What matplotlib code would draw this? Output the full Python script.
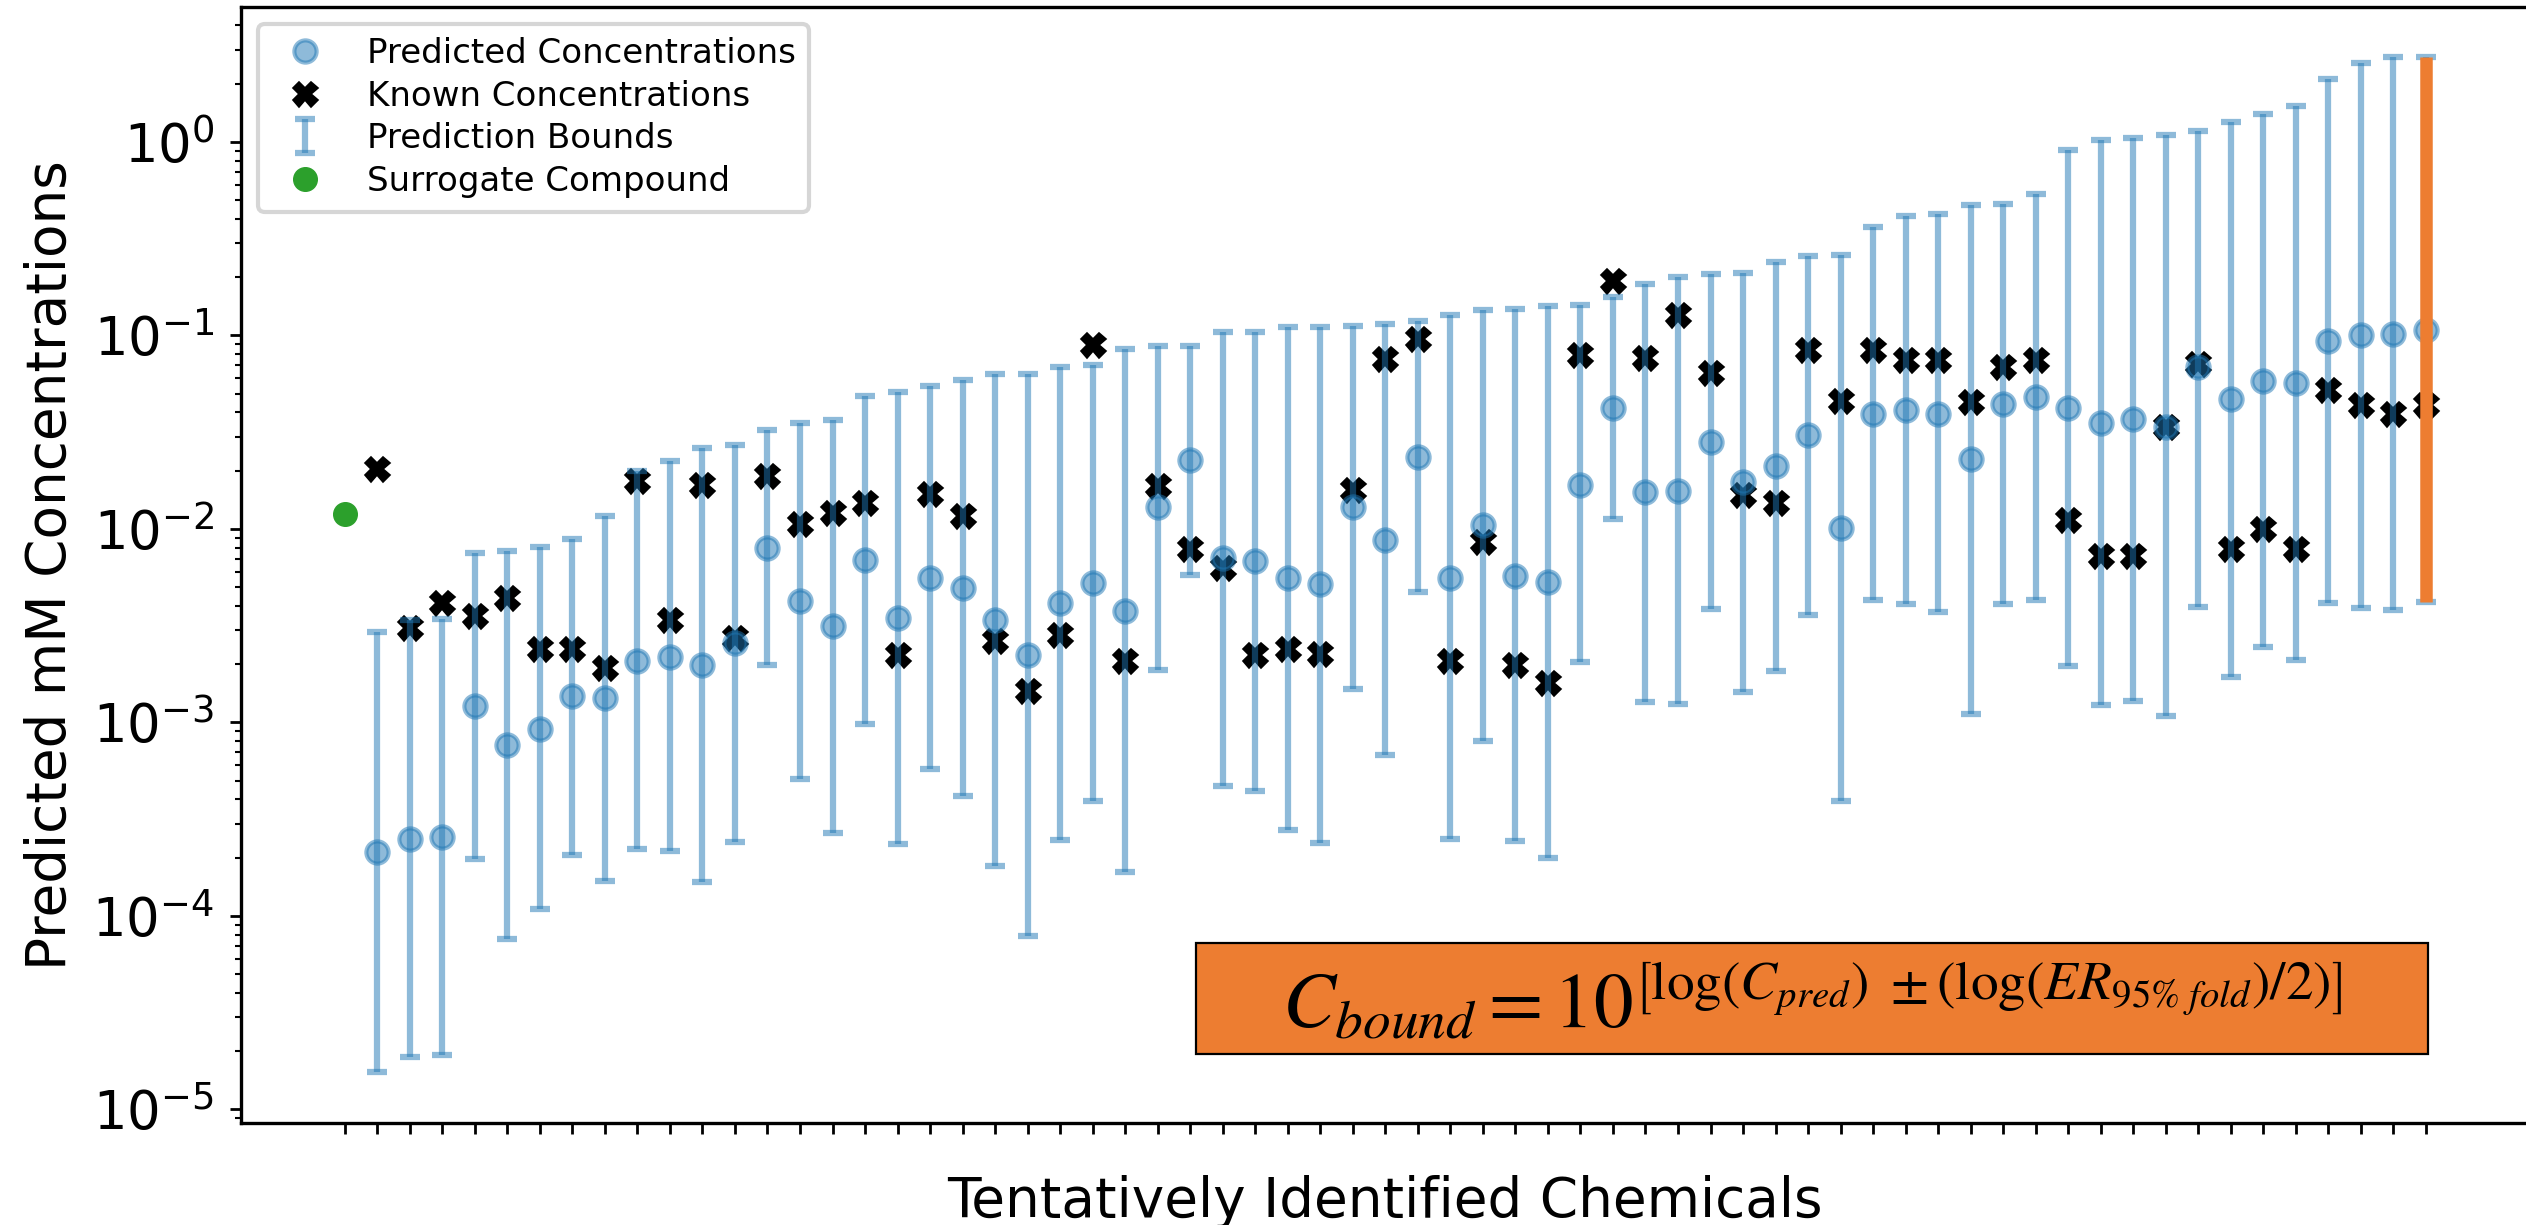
import matplotlib
matplotlib.use("Agg")
import matplotlib.pyplot as plt
from matplotlib.patches import Rectangle
import numpy as np

# Surrogate compound (position 0)
surrogate_conc = [0.0119]

# Tentatively identified chemicals (positions 1..64), concentrations in mM
predicted_conc = [
    2.13e-4, 2.51e-4, 2.55e-4, 1.22e-3, 7.62e-4, 9.29e-4, 1.36e-3, 1.33e-3,
    2.07e-3, 2.18e-3, 1.99e-3, 2.56e-3, 7.96e-3, 4.24e-3, 3.16e-3, 6.89e-3,
    3.47e-3, 5.56e-3, 4.93e-3, 3.39e-3, 2.22e-3, 4.13e-3, 5.25e-3, 3.78e-3,
    1.29e-2, 2.26e-2, 7.06e-3, 6.79e-3, 5.56e-3, 5.18e-3, 1.29e-2, 8.75e-3,
    2.36e-2, 5.60e-3, 1.05e-2, 5.71e-3, 5.30e-3, 1.69e-2, 4.21e-2, 1.55e-2,
    1.57e-2, 2.82e-2, 1.75e-2, 2.10e-2, 3.04e-2, 1.01e-2, 3.91e-2, 4.10e-2,
    3.94e-2, 2.29e-2, 4.43e-2, 4.81e-2, 4.21e-2, 3.53e-2, 3.68e-2, 3.36e-2,
    6.89e-2, 4.66e-2, 5.78e-2, 5.69e-2, 9.31e-2, 0.100, 0.102, 0.107,
]

lower_bound = [
    1.56e-5, 1.87e-5, 1.90e-5, 1.96e-4, 7.60e-5, 1.09e-4, 2.06e-4, 1.52e-4,
    2.21e-4, 2.16e-4, 1.50e-4, 2.42e-4, 1.97e-3, 5.07e-4, 2.68e-4, 9.84e-4,
    2.34e-4, 5.71e-4, 4.16e-4, 1.81e-4, 7.85e-5, 2.47e-4, 3.90e-4, 1.69e-4,
    1.86e-3, 5.78e-3, 4.69e-4, 4.43e-4, 2.79e-4, 2.39e-4, 1.48e-3, 6.76e-4,
    4.73e-3, 2.51e-4, 8.05e-4, 2.44e-4, 1.99e-4, 2.04e-3, 1.12e-2, 1.28e-3,
    1.24e-3, 3.85e-3, 1.44e-3, 1.84e-3, 3.58e-3, 3.94e-4, 4.27e-3, 4.09e-3,
    3.70e-3, 1.11e-3, 4.09e-3, 4.27e-3, 1.95e-3, 1.23e-3, 1.29e-3, 1.08e-3,
    3.95e-3, 1.71e-3, 2.44e-3, 2.09e-3, 4.12e-3, 3.92e-3, 3.79e-3, 4.20e-3,
]

upper_bound = [
    2.94e-3, 3.38e-3, 3.44e-3, 7.53e-3, 7.71e-3, 8.02e-3, 8.89e-3, 1.17e-2,
    1.99e-2, 2.23e-2, 2.63e-2, 2.70e-2, 3.24e-2, 3.54e-2, 3.66e-2, 4.83e-2,
    5.11e-2, 5.45e-2, 5.89e-2, 6.28e-2, 6.32e-2, 6.85e-2, 7.03e-2, 8.51e-2,
    8.79e-2, 8.79e-2, 0.104, 0.104, 0.111, 0.111, 0.112, 0.114,
    0.118, 0.127, 0.135, 0.136, 0.142, 0.143, 0.158, 0.185,
    0.201, 0.208, 0.209, 0.239, 0.256, 0.261, 0.361, 0.412,
    0.423, 0.471, 0.480, 0.535, 0.912, 1.02, 1.05, 1.09,
    1.14, 1.26, 1.40, 1.53, 2.12, 2.55, 2.73, 2.73,
]

known_conc = [
    0.0204, 3.08e-3, 4.13e-3, 3.56e-3, 4.37e-3, 2.40e-3, 2.38e-3, 1.91e-3,
    0.0177, 3.36e-3, 0.0168, 2.73e-3, 0.0188, 0.0106, 0.0121, 0.0136,
    2.22e-3, 0.0151, 0.0116, 2.64e-3, 1.46e-3, 2.82e-3, 0.0890, 2.08e-3,
    0.0167, 7.88e-3, 6.26e-3, 2.22e-3, 2.40e-3, 2.25e-3, 0.0158, 0.0754,
    0.0959, 2.08e-3, 8.55e-3, 1.98e-3, 1.59e-3, 0.0794, 0.190, 0.0762,
    0.128, 0.0640, 0.0149, 0.0136, 0.0836, 0.0458, 0.0836, 0.0743,
    0.0743, 0.0450, 0.0684, 0.0743, 0.0111, 7.22e-3, 7.22e-3, 0.0336,
    0.0707, 7.91e-3, 0.0100, 7.91e-3, 0.0519, 0.0435, 0.0394, 0.0435,
]

highlight_index = 63  # chemical whose bounds are emphasised

formula = (r"$C_{bound} = 10^{\left[\log(C_{pred})\ \pm"
           r"(\log(ER_{95\%\ fold})/2)\right]}$")

W, H = 2526, 1225
fig = plt.figure(figsize=(W / 100, H / 100), dpi=100)
left, right, top, bottom = 240.7, 2530.0, 6.7, 1122.7
ax = fig.add_axes([left / W, 1 - bottom / H, (right - left) / W, (bottom - top) / H])

n = len(predicted_conc)
x_chem = np.arange(1, n + 1)
pred = np.array(predicted_conc)
lo = np.array(lower_bound)
hi = np.array(upper_bound)

known_line, = ax.plot(x_chem, known_conc, linestyle="none", marker="X",
                      color="black", markersize=18, markeredgewidth=1.2)
pred_line, = ax.plot(x_chem, pred, linestyle="none", marker="o", color="C0",
                     alpha=0.5, markersize=16, markeredgewidth=3)
bounds = ax.errorbar(x_chem, pred, yerr=[pred - lo, hi - pred], fmt="none",
                     ecolor="C0", alpha=0.5, elinewidth=4.5, capsize=7.5,
                     capthick=4.5)
surr_line, = ax.plot([0], surrogate_conc, linestyle="none", marker="o",
                     color="C2", markersize=17)
ax.vlines(x_chem[highlight_index], lo[highlight_index], hi[highlight_index],
          color="#ED7D31", linewidth=9, zorder=5)

ax.set_yscale("log")
ax.set_xticks(np.arange(0, n + 1))
ax.set_xticklabels([""] * (n + 1))

for s in ax.spines.values():
    s.set_linewidth(2.4)
ax.tick_params(axis="both", which="major", length=8, width=2, labelsize=38, pad=11)
ax.tick_params(axis="y", which="minor", length=4.5, width=1.5)

ax.set_ylabel("Predicted mM Concentrations", fontsize=39.5)
ax.set_xlabel("Tentatively Identified Chemicals", fontsize=39.5)
ax.yaxis.set_label_coords(-0.0711, 0.5)
ax.xaxis.set_label_coords(0.5, -0.0469)

leg = ax.legend([pred_line, known_line, bounds, surr_line],
                ["Predicted Concentrations", "Known Concentrations",
                 "Prediction Bounds", "Surrogate Compound"],
                loc="upper left", fontsize=24.5, labelspacing=0.28)
leg.get_frame().set_linewidth(3)

# Formula box
bx0 = (1196 - left) / (right - left)
bx1 = (2428 - left) / (right - left)
by0 = (bottom - 1054) / (bottom - top)
by1 = (bottom - 942.7) / (bottom - top)
ax.add_patch(Rectangle((bx0, by0), bx1 - bx0, by1 - by0, transform=ax.transAxes,
                       facecolor="#ED7D31", edgecolor="black", linewidth=1.6,
                       zorder=6))
ax.text((bx0 + bx1) / 2, (by0 + by1) / 2 - 0.004, formula, transform=ax.transAxes,
        ha="center", va="center", fontsize=57, math_fontfamily="stix", zorder=7)

fig.savefig("out.png", dpi=100)
